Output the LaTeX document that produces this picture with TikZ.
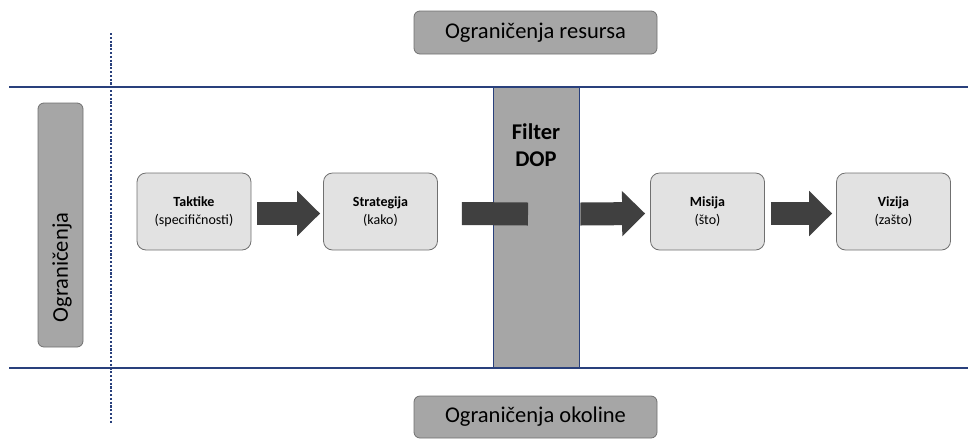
\documentclass[tikz,border=0pt]{standalone}
\usepackage{fontspec}
\setmainfont{Carlito}
\usetikzlibrary{arrows.meta,calc}
\definecolor{navy}{RGB}{41,64,124}
\definecolor{boxgray}{RGB}{166,166,166}
\definecolor{lightbox}{RGB}{226,226,226}
\definecolor{edgegray}{RGB}{112,112,112}
\definecolor{arrowdark}{RGB}{64,64,64}
\begin{document}
\begin{tikzpicture}[x=1pt,y=-1pt,
  stagebox/.style={draw=edgegray, fill=lightbox, rounded corners=9pt, line width=0.8pt,
    minimum width=114pt, minimum height=77pt, align=center,
    font=\fontsize{14}{17.5}\selectfont, inner sep=0pt},
  limitbox/.style={draw=edgegray, fill=boxgray, rounded corners=6pt, line width=0.8pt, inner sep=0pt},
  limittext/.style={font=\fontsize{22.5}{26}\selectfont, inner sep=0pt},
  fatarrow/.style={draw=arrowdark, line width=23pt, -{Triangle[length=23pt,width=44pt]}},
  fatbar/.style={draw=arrowdark, line width=23pt},
  bandline/.style={draw=navy, line width=2.2pt},
  dotline/.style={draw=navy, line width=2.4pt, dash pattern=on 2.2pt off 1.6pt},
]
\useasboundingbox (0,0) rectangle (968,440);

% Filter column
\node[draw=navy, fill=boxgray, line width=0.8pt, minimum width=86pt, minimum height=281pt, inner sep=0pt] (filt) at (536,227.5) {};
\node[font=\fontsize{22.5}{27}\selectfont\bfseries, align=center, anchor=north, inner sep=0pt] (filtlabel) at (536,123.5) {Filter\\DOP};

% band lines
\coordinate (tl) at (9,87);
\coordinate (tr) at (968,87);
\coordinate (bl) at (9,368);
\coordinate (br) at (968,368);
\draw[bandline] (tl) -- (tr);
\draw[bandline] (bl) -- (br);

% dotted separator
\coordinate (dtop) at (111,33);
\coordinate (dbot) at (111,424);
\draw[dotline] (dtop) -- (dbot);

% limit boxes
\node[limitbox, minimum width=243pt, minimum height=43pt] (res) at (535.5,32.5) {};
\node[limittext] at (res.center) {Ograničenja resursa};
\node[limitbox, minimum width=243pt, minimum height=42pt] (env) at (535.5,417) {};
\node[limittext] at (env.center) {Ograničenja okoline};
\node[limitbox, minimum width=45pt, minimum height=244pt] (lim) at (60.5,225) {};
\node[limittext, rotate=90] (limtext) at (62,267.5) {Ograničenja};

% stage boxes
\node[stagebox] (tak) at (194,211.5) {\textbf{Taktike}\\(specifičnosti)};
\node[stagebox] (str) at (380.5,211.5) {\textbf{Strategija}\\(kako)};
\node[stagebox] (mis) at (707.5,211.5) {\textbf{Misija}\\(što)};
\node[stagebox] (viz) at (893.5,211.5) {\textbf{Vizija}\\(zašto)};

% arrows
\draw[fatarrow] ($(tak.east)+(6,2)$) -- ($(str.west)+(-3,2)$);
\draw[fatbar] ($(str.east)+(24,2)$) -- ($(filt.center)+(-8,-13.5)$);
\draw[fatarrow] ($(filt.east)+(1,-13.5)$) -- ($(mis.west)+(-5,2)$);
\draw[fatarrow] ($(mis.east)+(6,2)$) -- ($(viz.west)+(-4,2)$);
\end{tikzpicture}
\end{document}
